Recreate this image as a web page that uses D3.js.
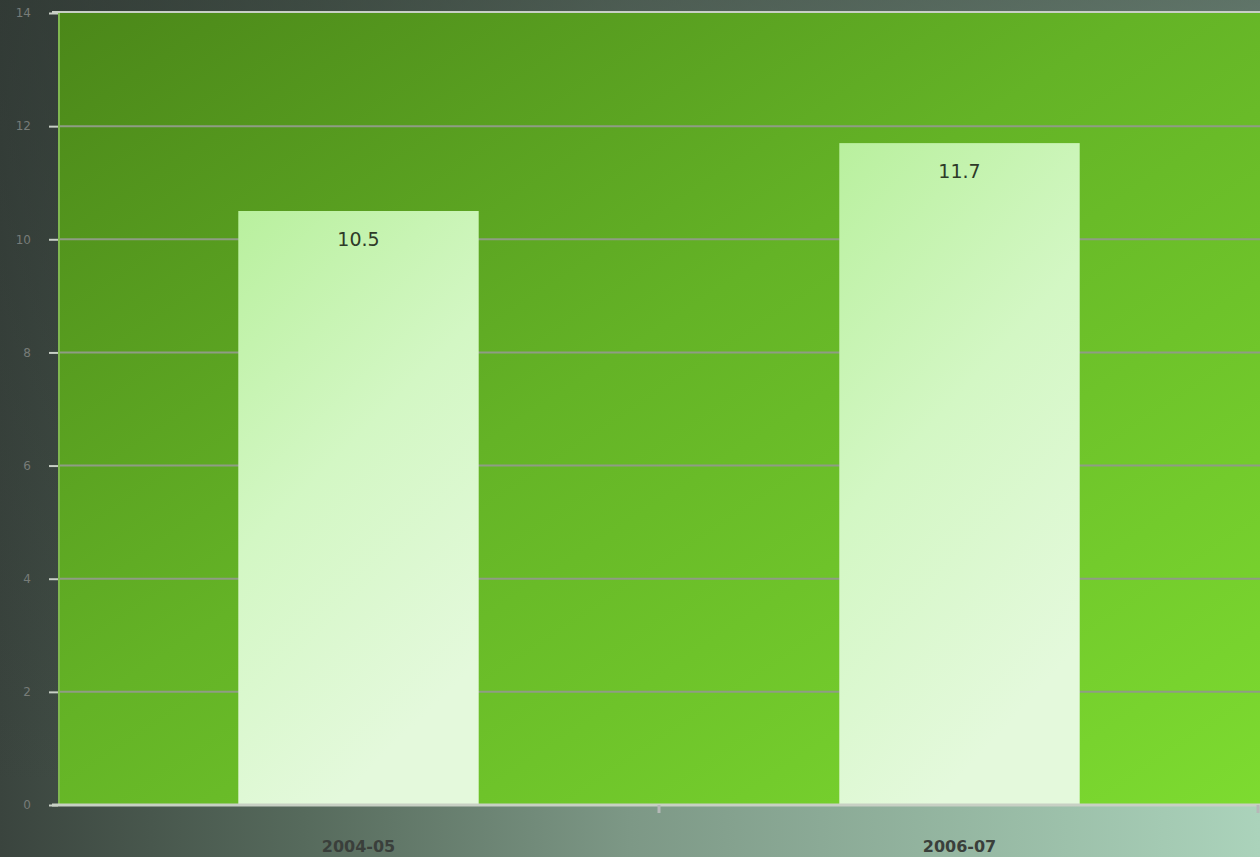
<!DOCTYPE html>
<html>
<head>
<meta charset="utf-8">
<script src="https://cdn.jsdelivr.net/npm/d3@7"></script>
<style>
  html, body { margin: 0; padding: 0; overflow: hidden; }
  svg { display: block; }
</style>
</head>
<body>
<svg id="drawing_region"></svg>
<script>
// chart data
const categories = ['2004-05', '2006-07'];
const values = [10.5, 11.7];
const yTicks = [0, 2, 4, 6, 8, 10, 12, 14];

const config = {
    width: 1260,
    height: 857,
    margin: {top: 13, right: 0, bottom: 52, left: 58}
};

const svg = d3.select('#drawing_region')
    .attr('width', config.width)
    .attr('height', config.height);

const inner_width = config.width - config.margin.left - config.margin.right;
const inner_height = config.height - config.margin.top - config.margin.bottom;

const defs = svg.append('defs');

// page background, left to right
const bg = defs.append('linearGradient').attr('id', 'bg')
    .attr('x1', '0%').attr('y1', '0%').attr('x2', '100%').attr('y2', '0%');
bg.append('stop').attr('offset', '0%').attr('stop-color', '#3a443e');
bg.append('stop').attr('offset', '24%').attr('stop-color', '#566a5c');
bg.append('stop').attr('offset', '50%').attr('stop-color', '#7d9886');
bg.append('stop').attr('offset', '100%').attr('stop-color', '#abd3bb');

// darker towards the top
const shade = defs.append('linearGradient').attr('id', 'shade')
    .attr('x1', '0%').attr('y1', '0%').attr('x2', '0%').attr('y2', '100%');
shade.append('stop').attr('offset', '0%').attr('stop-color', '#2c3430').attr('stop-opacity', 0.6);
shade.append('stop').attr('offset', '92%').attr('stop-color', '#2c3430').attr('stop-opacity', 0);

// plot area
const plot = defs.append('linearGradient').attr('id', 'plotbg')
    .attr('x1', '0%').attr('y1', '0%').attr('x2', '100%').attr('y2', '100%');
plot.append('stop').attr('offset', '0%').attr('stop-color', '#4b8719');
plot.append('stop').attr('offset', '45%').attr('stop-color', '#64b326');
plot.append('stop').attr('offset', '100%').attr('stop-color', '#7ddb30');

// bars
const barg = defs.append('linearGradient').attr('id', 'barbg')
    .attr('x1', '0%').attr('y1', '0%').attr('x2', '40%').attr('y2', '100%');
barg.append('stop').attr('offset', '0%').attr('stop-color', '#b9f09e');
barg.append('stop').attr('offset', '50%').attr('stop-color', '#d3f7c4');
barg.append('stop').attr('offset', '100%').attr('stop-color', '#e4f9dc');

svg.append('rect')
    .attr('width', config.width)
    .attr('height', config.height)
    .attr('fill', 'url(#bg)');

svg.append('rect')
    .attr('width', config.width)
    .attr('height', config.height)
    .attr('fill', 'url(#shade)');

const chart = svg.append('g')
    .attr('transform', `translate(${config.margin.left}, ${config.margin.top})`);

const xscale = d3.scaleBand()
    .domain(categories)
    .range([0, inner_width])
    .paddingInner(0.6)
    .paddingOuter(0.3);

const yscale = d3.scaleLinear()
    .domain([0, 14])
    .range([inner_height, 0]);

chart.append('rect')
    .attr('width', inner_width)
    .attr('height', inner_height)
    .attr('fill', 'url(#plotbg)');

// gridlines
chart.append('g')
    .selectAll('line')
    .data(yTicks.filter(d => d > 0 && d < 14))
    .join('line')
    .attr('x1', 0)
    .attr('x2', inner_width)
    .attr('y1', d => yscale(d))
    .attr('y2', d => yscale(d))
    .attr('stroke', '#8f9c85')
    .attr('stroke-width', 2);

// bars
chart.append('g')
    .selectAll('rect')
    .data(values)
    .join('rect')
    .attr('x', (d, i) => xscale(categories[i]))
    .attr('y', d => yscale(d))
    .attr('width', xscale.bandwidth())
    .attr('height', d => inner_height - yscale(d))
    .attr('fill', 'url(#barbg)');

// value labels
chart.append('g')
    .selectAll('text')
    .data(values)
    .join('text')
    .attr('x', (d, i) => xscale(categories[i]) + xscale.bandwidth() / 2)
    .attr('y', d => yscale(d) + 35)
    .attr('text-anchor', 'middle')
    .attr('font-family', 'DejaVu Sans, sans-serif')
    .attr('font-size', 19)
    .attr('fill', '#2e3a28')
    .text(d => d.toFixed(1));

// left edge highlight
chart.append('line')
    .attr('x1', 1).attr('x2', 1)
    .attr('y1', 0).attr('y2', inner_height)
    .attr('stroke', '#80b850')
    .attr('stroke-width', 2);

// top border
chart.append('line')
    .attr('x1', -6).attr('x2', inner_width)
    .attr('y1', -1).attr('y2', -1)
    .attr('stroke', '#c8cfc6')
    .attr('stroke-width', 2);

// y axis
const yaxis = d3.axisLeft(yscale)
    .tickValues(yTicks)
    .tickSize(9)
    .tickPadding(18);

const yaxis_group = chart.append('g').call(yaxis);
yaxis_group.select('.domain').remove();
yaxis_group.selectAll('.tick line')
    .attr('stroke', '#c8cfc6')
    .attr('stroke-width', 2);
yaxis_group.selectAll('.tick text')
    .attr('font-family', 'DejaVu Sans, sans-serif')
    .attr('font-size', 12)
    .attr('fill', '#777c78');

// x axis
const xaxis_group = chart.append('g')
    .attr('transform', `translate(0, ${inner_height})`);

xaxis_group.append('line')
    .attr('x1', -6).attr('x2', inner_width)
    .attr('y1', 0).attr('y2', 0)
    .attr('stroke', '#c8d0c4')
    .attr('stroke-width', 3);

xaxis_group.selectAll('.sep')
    .data([inner_width / 2, inner_width - 2])
    .join('line')
    .attr('class', 'sep')
    .attr('x1', d => d).attr('x2', d => d)
    .attr('y1', 0).attr('y2', 8)
    .attr('stroke', '#b5b8b7')
    .attr('stroke-width', 3);

xaxis_group.selectAll('text')
    .data(categories)
    .join('text')
    .attr('x', d => xscale(d) + xscale.bandwidth() / 2)
    .attr('y', 47)
    .attr('text-anchor', 'middle')
    .attr('font-family', 'DejaVu Sans, sans-serif')
    .attr('font-size', 16)
    .attr('font-weight', 'bold')
    .attr('fill', '#3a3f3b')
    .text(d => d);
</script>
</body>
</html>
